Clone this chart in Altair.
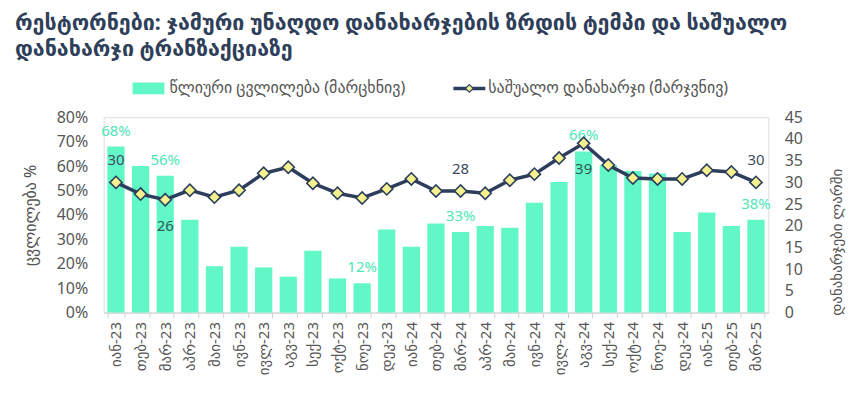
import altair as alt
import pandas as pd

months = ["იან-23", "თებ-23", "მარ-23", "აპრ-23", "მაი-23", "ივნ-23", "ივლ-23", "აგვ-23", "სექ-23",
          "ოქტ-23", "ნოე-23", "დეკ-23", "იან-24", "თებ-24", "მარ-24", "აპრ-24", "მაი-24", "ივნ-24",
          "ივლ-24", "აგვ-24", "სექ-24", "ოქტ-24", "ნოე-24", "დეკ-24", "იან-25", "თებ-25", "მარ-25"]
yoy_change = [0.68, 0.60, 0.56, 0.38, 0.19, 0.27, 0.185, 0.147, 0.253, 0.14, 0.12, 0.34, 0.27,
              0.365, 0.33, 0.355, 0.347, 0.45, 0.535, 0.66, 0.605, 0.58, 0.57, 0.33, 0.41, 0.355, 0.38]
avg_spend = [30, 27.3, 26, 28.2, 26.6, 28.2, 32.1, 33.5, 29.8, 27.5, 26.4, 28.5, 30.8, 28, 28,
             27.5, 30.5, 31.9, 35.6, 39, 34, 31, 30.8, 30.8, 32.8, 32.4, 30]
bar_label_months = ["იან-23", "მარ-23", "ნოე-23", "მარ-24", "აგვ-24", "მარ-25"]
line_label_above = ["იან-23", "მარ-24", "მარ-25"]
line_label_below = ["მარ-23", "აგვ-24"]
left_ticks = [0, .1, .2, .3, .4, .5, .6, .7, .8]
right_ticks = [0, 5, 10, 15, 20, 25, 30, 35, 40, 45]

title_lines = ["რესტორნები: ჯამური უნაღდო დანახარჯების ზრდის ტემპი და საშუალო",
               "დანახარჯი ტრანზაქციაზე"]
legend_bar = "წლიური ცვლილება (მარცხნივ)"
legend_line = "საშუალო დანახარჯი (მარჯვნივ)"
left_title = "ცვლილება %"
right_title = "დანახარჯები ლარში"

df = pd.DataFrame({"month": months, "yoy": yoy_change, "spend": avg_spend})

BAR = "#62f7c6"
BAR_TXT = "#4fe6b6"
LINE = "#2d3e5c"
GREY = "#555555"
FONT = "Noto Sans, DejaVu Sans, sans-serif"

xenc = alt.X("month:N", sort=months, title=None,
             scale=alt.Scale(paddingInner=0.3, paddingOuter=0.15),
             axis=alt.Axis(labelAngle=-90, labelFontSize=15, labelColor=GREY,
                           domainColor="#d0d0d0", tickColor="#d0d0d0", tickSize=5,
                           tickBand="extent", labelPadding=4, labelFont=FONT))

y_left = alt.Y("yoy:Q", scale=alt.Scale(domain=[0, 0.8]), title=left_title,
               axis=alt.Axis(format=".0%", values=left_ticks, grid=False, labelOverlap=False,
                             ticks=False, domain=False, labelPadding=16, labelFontSize=16,
                             labelColor=GREY, titleFontSize=16, titleFontWeight="normal",
                             titleColor=GREY, titlePadding=18, labelFont=FONT, titleFont=FONT))

y_right = alt.Y("spend:Q", scale=alt.Scale(domain=[0, 45]), title=right_title,
                axis=alt.Axis(orient="right", values=right_ticks, grid=False, ticks=False,
                              labelOverlap=False, domain=False, labelPadding=16, labelFontSize=16,
                              labelColor=GREY, titleFontSize=15, titleFontWeight="normal",
                              titleColor=GREY, titleAngle=-90, titleBaseline="middle",
                              titleX=68, titleY=125,
                              labelFont=FONT, titleFont=FONT))

bars = alt.Chart(df).mark_bar(color=BAR).encode(x=xenc, y=y_left)
bar_labels = alt.Chart(df).transform_filter(
    alt.FieldOneOfPredicate(field="month", oneOf=bar_label_months)
).mark_text(color=BAR_TXT, fontSize=15, baseline="bottom", dy=-8, font=FONT).encode(
    x=xenc, y=y_left, text=alt.Text("yoy:Q", format=".0%"))

left_layer = alt.layer(bars, bar_labels)

line = alt.Chart(df).mark_line(color=LINE, strokeWidth=3.5).encode(x=xenc, y=y_right)
points = alt.Chart(df).mark_point(shape="diamond", filled=True, fill="#f4f18e", stroke=LINE,
                                  strokeWidth=1.6, size=150, opacity=1).encode(x=xenc, y=y_right)
lab_above = alt.Chart(df).transform_filter(
    alt.FieldOneOfPredicate(field="month", oneOf=line_label_above)
).mark_text(color="#3d4d63", fontSize=15, dy=-22, font=FONT).encode(
    x=xenc, y=y_right, text=alt.Text("spend:Q", format=".0f"))
lab_below = alt.Chart(df).transform_filter(
    alt.FieldOneOfPredicate(field="month", oneOf=line_label_below)
).mark_text(color="#2f5a55", fontSize=15, dy=26, font=FONT).encode(
    x=xenc, y=y_right, text=alt.Text("spend:Q", format=".0f"))

right_layer = alt.layer(line, points, lab_above, lab_below)

one = pd.DataFrame({"k": [0]})
t1 = alt.Chart(one).mark_text(align="left", baseline="alphabetic", fontSize=21.5, fontWeight="bold",
                               color="#2f3f5a", font=FONT, text=title_lines[0]).encode(
    x=alt.value(-89), y=alt.value(-88))
t2 = alt.Chart(one).mark_text(align="left", baseline="alphabetic", fontSize=21.5, fontWeight="bold",
                               color="#2f3f5a", font=FONT, text=title_lines[1]).encode(
    x=alt.value(-89), y=alt.value(-61))

leg_rect = alt.Chart(one).mark_rect(color=BAR).encode(
    x=alt.value(29), x2=alt.value(61), y=alt.value(-35), y2=alt.value(-23))
leg_t1 = alt.Chart(one).mark_text(align="left", baseline="middle", fontSize=16, color=GREY,
                                   font=FONT, text=legend_bar).encode(x=alt.value(66), y=alt.value(-29))
leg_line = alt.Chart(one).mark_rule(color=LINE, strokeWidth=3.5).encode(
    x=alt.value(351), x2=alt.value(383), y=alt.value(-29))
leg_pt = alt.Chart(one).mark_point(shape="diamond", filled=True, fill="#f4f18e", stroke=LINE,
                                   strokeWidth=1.2, size=60, opacity=1).encode(
    x=alt.value(367), y=alt.value(-29))
leg_t2 = alt.Chart(one).mark_text(align="left", baseline="middle", fontSize=16, color=GREY,
                                   font=FONT, text=legend_line).encode(x=alt.value(386), y=alt.value(-29))

chart = alt.layer(left_layer, right_layer, t1, t2, leg_rect, leg_t1, leg_line, leg_pt, leg_t2
                  ).resolve_scale(y="independent").properties(
    width=667, height=196,
    autosize=alt.AutoSizeParams(type="none"),
    padding={"left": 96, "top": 109, "right": 80, "bottom": 70},
).configure_view(stroke=None).configure(background="white")

chart.save("out.html", embed_options={"renderer": "svg", "actions": False})
